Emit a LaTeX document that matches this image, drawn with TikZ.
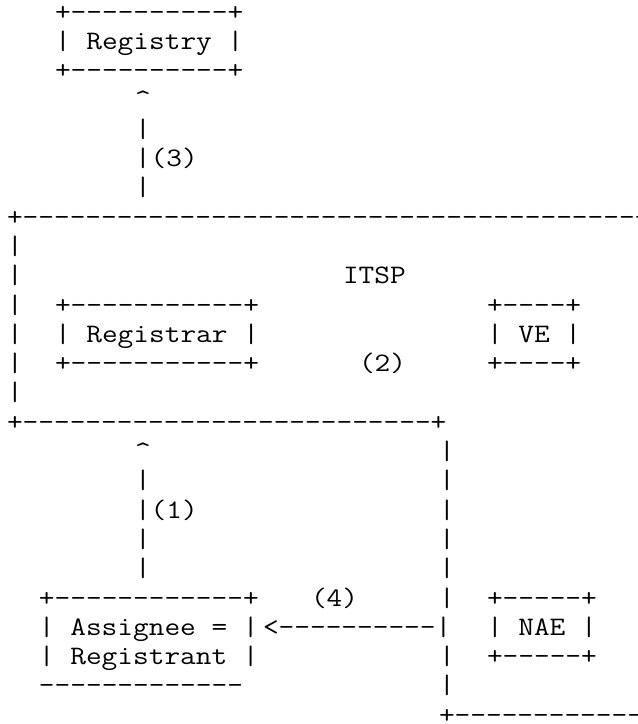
\documentclass[tikz,border=0pt]{standalone}
\usepackage{fontspec}
\setmonofont{Latin Modern Mono}[FakeStretch=1.143]
\tikzset{ascii/.style={inner sep=0pt,outer sep=0pt,anchor=base west,font=\ttfamily\fontsize{13.33pt}{14.65pt}\selectfont}}
\begin{document}
\begin{tikzpicture}
\useasboundingbox (0,0) rectangle (319pt,-362pt);
\clip (0,0) rectangle (319pt,-362pt);
\begin{scope}[shift={(3.5pt,-10pt)},x=8pt,y=-14.65pt]
% Registry
\node[ascii] (regytop) at (3,0) {+----------+};
\node[ascii] (registry) at (3,1) {| Registry |};
\node[ascii] (regybot) at (3,2) {+----------+};
\node[ascii] (tipthree) at (8,3) {\textasciicircum};
\node[ascii] (barthreea) at (8,4) {|};
\node[ascii] (stepthree) at (8,5) {|(3)};
\node[ascii] (barthreeb) at (8,6) {|};
% ITSP
\node[ascii] (itsptop) at (0,7) {+----------------------------------------};
\foreach \r in {8,...,13}
  \node[ascii] (itspside\r) at (0,\r) {|};
\node[ascii] (itsp) at (21,9) {ITSP};
\node[ascii] (regrtop) at (3,10) {+-----------+};
\node[ascii] (registrar) at (3,11) {| Registrar |};
\node[ascii] (regrbot) at (3,12) {+-----------+};
\node[ascii] (vetop) at (30,10) {+----+};
\node[ascii] (ve) at (30,11) {| VE |};
\node[ascii] (vebot) at (30,12) {+----+};
\node[ascii] (steptwo) at (22,12) {(2)};
\node[ascii] (itspbot) at (0,14) {+--------------------------+};
% link to the assignee
\node[ascii] (tipone) at (8,15) {\textasciicircum};
\foreach \r in {16,18,19}
  \node[ascii] (barone\r) at (8,\r) {|};
\node[ascii] (stepone) at (8,17) {|(1)};
\foreach \r in {15,...,20,22,23}
  \node[ascii] (nodeside\r) at (27,\r) {|};
% Assignee
\node[ascii] (asgntop) at (2,20) {+------------+};
\node[ascii] (assignee) at (2,21) {| Assignee = |};
\node[ascii] (registrant) at (2,22) {| Registrant |};
\node[ascii] (asgnbot) at (2,23) {-------------};
\node[ascii] (stepfour) at (19,20) {(4)};
\node[ascii] (arrowfour) at (16,21) {<----------|};
% NAE
\node[ascii] (naetop) at (30,20) {+-----+};
\node[ascii] (nae) at (30,21) {| NAE |};
\node[ascii] (naebot) at (30,22) {+-----+};
\node[ascii] (nodebot) at (27,24) {+-------------};
\end{scope}
\end{tikzpicture}
\end{document}
